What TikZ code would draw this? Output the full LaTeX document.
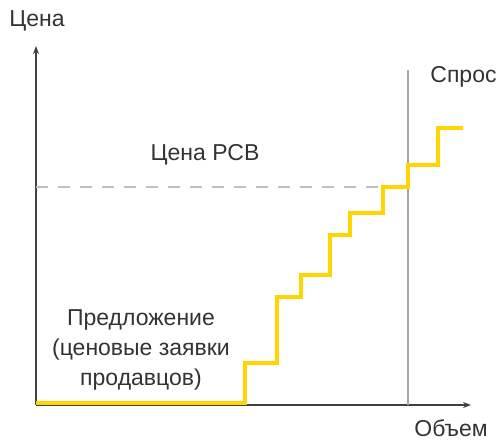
\documentclass[tikz,border=0pt]{standalone}
\usepackage{fontspec}
\setmainfont{Liberation Sans}
\usetikzlibrary{arrows.meta}

\definecolor{axisgray}{HTML}{404040}
\definecolor{demandgray}{HTML}{A6A6A6}
\definecolor{dashgray}{HTML}{BFBFBF}
\definecolor{supplyyellow}{HTML}{FFD400}

\begin{document}
\begin{tikzpicture}[x=0.5pt, y=-0.5pt,
    lbl/.style={font=\fontsize{11.5}{13.5}\selectfont, text=black!80, inner sep=0pt},
    axisline/.style={draw=axisgray, line width=1.2pt},
    supply/.style={draw=supplyyellow, line width=2pt, line join=miter}]

  \useasboundingbox (0,0) rectangle (500,442);

  \def\ox{36}     % origin
  \def\oy{405}
  \def\pr{187}    % price level

  % Draw axes
  \coordinate (O) at (\ox,\oy);
  \coordinate (Ytop) at (\ox,46);
  \coordinate (Xend) at (471,\oy);
  \draw[axisline, -{Stealth[length=4pt, width=3pt]}] (O) -- (Ytop);
  \draw[axisline, -{Stealth[length=4pt, width=3pt]}] (O) -- (Xend);
  \node[lbl] (yl) at (37,21) {Цена};
  \node[lbl] (xl) at (451,428) {Объем};

  % Demand
  \coordinate (Dtop) at (408,70);
  \coordinate (Dbot) at (408,\oy);
  \draw[demandgray, line width=1.2pt] (Dbot) -- (Dtop);
  \node[lbl, anchor=west] (dl) at (430,77) {Спрос};

  % Price line
  \coordinate (P) at (\ox,\pr);
  \draw[dashgray, line width=1.2pt, dash pattern=on 6pt off 5pt] (P) -- (384,\pr);
  \node[lbl] (pl) at (205,155) {Цена РСВ};

  % Supply steps
  \draw[supply] (\ox,403) -- (245,403) |- (277,363) |- (301,297)
    |- (330,275) |- (350,235) |- (383,213) |- (408,\pr)
    |- (438,165) |- (463,128);
  \node[lbl, align=center] (sl) at (141,350)
    {Предложение\\[1.5pt](ценовые заявки\\[1.5pt]продавцов)};

\end{tikzpicture}
\end{document}
